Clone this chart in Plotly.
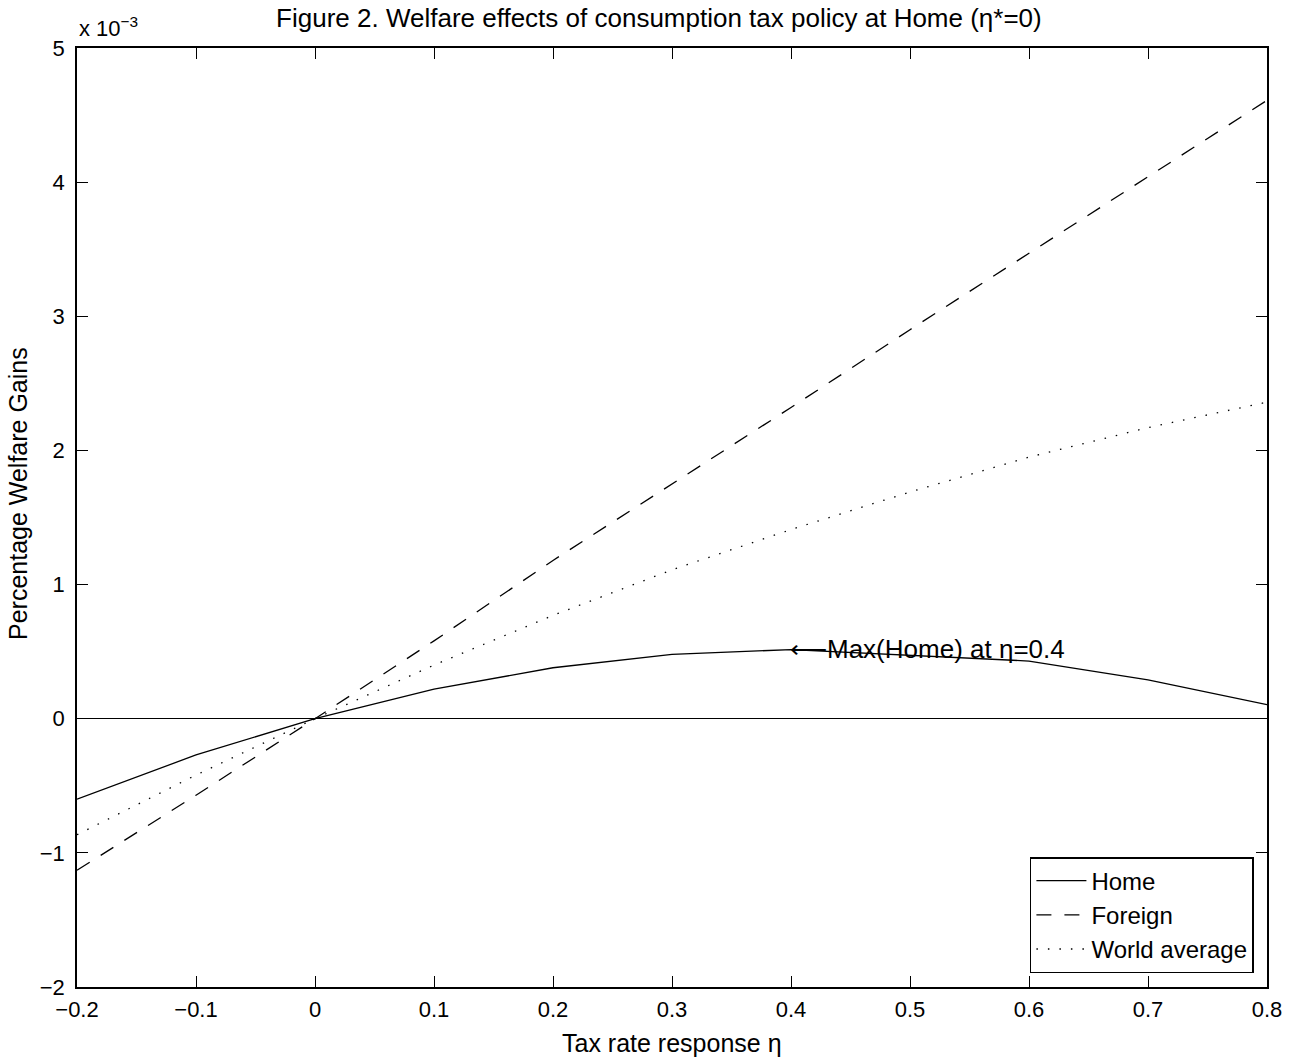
import plotly.graph_objects as go

# Tax rate response eta
eta = [-0.2, -0.1, 0.0, 0.1, 0.2, 0.3, 0.4, 0.5, 0.6, 0.7, 0.8]
# Percentage welfare gains, in units of 10^-3
home = [-0.60, -0.27, 0.0, 0.22, 0.38, 0.48, 0.515, 0.475, 0.43, 0.29, 0.105]
foreign = [-1.13, -0.57, 0.0, 0.58, 1.18, 1.75, 2.32, 2.90, 3.47, 4.04, 4.61]
world = [-0.865, -0.42, 0.0, 0.40, 0.77, 1.11, 1.41, 1.69, 1.95, 2.17, 2.36]

x_ticks = [-0.2, -0.1, 0, 0.1, 0.2, 0.3, 0.4, 0.5, 0.6, 0.7, 0.8]
x_ticktext = ["\u22120.2", "\u22120.1", "0", "0.1", "0.2", "0.3", "0.4", "0.5", "0.6", "0.7", "0.8"]
y_ticks = [-2, -1, 0, 1, 2, 3, 4, 5]
y_ticktext = ["\u22122", "\u22121", "0", "1", "2", "3", "4", "5"]

max_eta = 0.4
max_home = 0.515

FONT = "Liberation Sans, Arial, sans-serif"

fig = go.Figure()
fig.add_trace(go.Scatter(x=eta, y=home, mode="lines", name="Home",
                         line=dict(color="black", width=1.3)))
fig.add_trace(go.Scatter(x=eta, y=foreign, mode="lines", name="Foreign",
                         line=dict(color="black", width=1.3, dash="15px,13px")))
fig.add_trace(go.Scatter(x=eta, y=world, mode="lines", name="World average",
                         line=dict(color="black", width=1.3, dash="1.5px,10px")))

# Max annotation
fig.add_annotation(x=max_eta, y=max_home, xref="x", yref="y",
                   text="\u27f5Max(Home) at \u03b7=0.4", showarrow=False,
                   xanchor="left", yanchor="middle", xshift=-3, yshift=1,
                   font=dict(family=FONT, size=26, color="black"))

# exponent label
fig.add_annotation(x=0, y=1, xref="paper", yref="paper",
                   text="x 10<sup>\u22123</sup>", showarrow=False,
                   xanchor="left", yanchor="bottom", yshift=5,
                   font=dict(family=FONT, size=22, color="black"))

# axis titles as annotations
fig.add_annotation(x=0, y=0.525, xref="paper", yref="paper",
                   text="Percentage Welfare Gains", showarrow=False, textangle=-90,
                   xanchor="center", yanchor="middle", xshift=-59,
                   font=dict(family=FONT, size=25, color="black"))
fig.add_annotation(x=0.5, y=0, xref="paper", yref="paper",
                   text="Tax rate response \u03b7", showarrow=False,
                   xanchor="center", yanchor="middle", yshift=-56,
                   font=dict(family=FONT, size=25, color="black"))

fig.update_layout(
    width=1292, height=1060,
    paper_bgcolor="white", plot_bgcolor="white",
    margin=dict(l=77, r=25, t=48, b=73),
    font=dict(family=FONT, size=22, color="black"),
    title=dict(text="Figure 2. Welfare effects of consumption tax policy at Home (\u03b7*=0)",
               x=0.489, xanchor="center", xref="paper", y=0.983, yanchor="middle",
               font=dict(family=FONT, size=26, color="black")),
    showlegend=True,
    legend=dict(x=0.989, y=0.0149, xanchor="right", yanchor="bottom",
                bgcolor="white", bordercolor="black", borderwidth=1.5,
                font=dict(family=FONT, size=24, color="black"),
                tracegroupgap=0, itemwidth=50),
)

fig.update_xaxes(range=[-0.2, 0.8], tickvals=x_ticks, ticktext=x_ticktext,
                 automargin=False,
                 showgrid=False, zeroline=False, showline=True, linecolor="black",
                 linewidth=1.5, mirror="ticks", ticks="inside", ticklen=11,
                 tickcolor="black", tickwidth=1, ticklabelstandoff=2)
fig.update_yaxes(range=[-2, 5], tickvals=y_ticks, ticktext=y_ticktext,
                 automargin=False,
                 showgrid=False, zeroline=True, zerolinecolor="black", zerolinewidth=1.3,
                 showline=True, linecolor="black",
                 linewidth=1.5, mirror="ticks", ticks="inside", ticklen=11,
                 tickcolor="black", tickwidth=1, ticklabelstandoff=6)

fig.write_html("out.html", config={"displayModeBar": False},
               post_script="document.body.style.margin='0px';")
